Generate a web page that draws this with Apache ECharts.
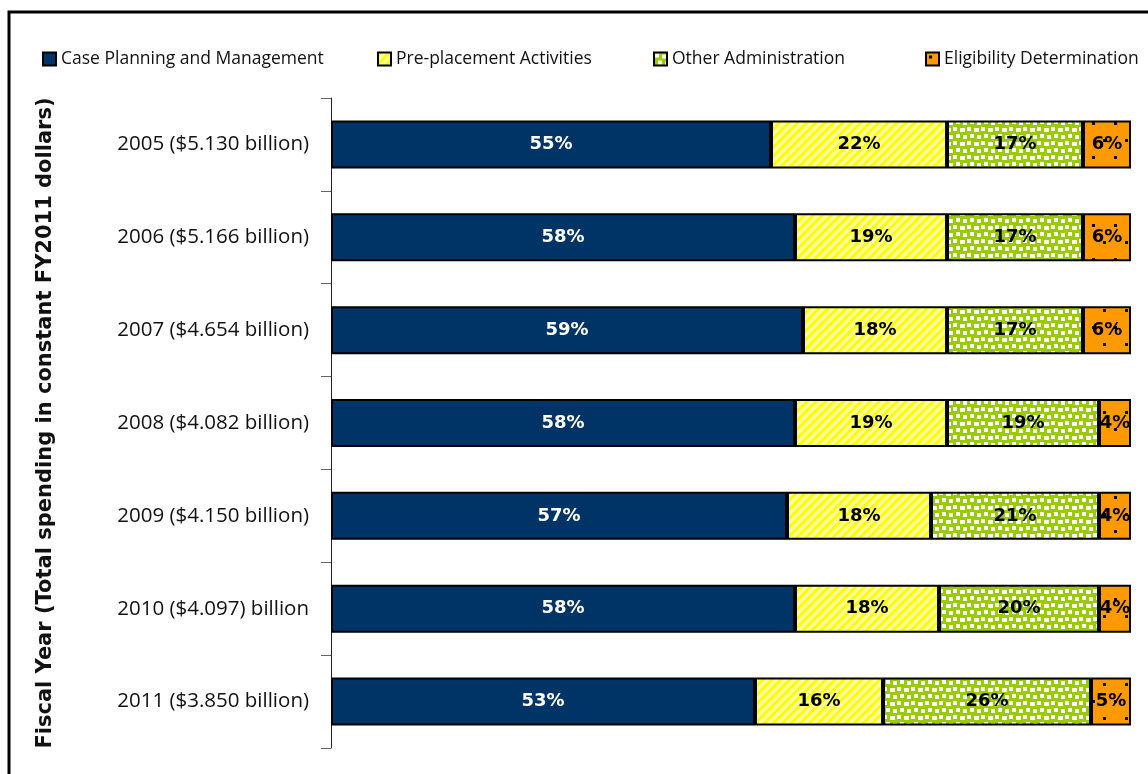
<!DOCTYPE html>
<html>
<head>
<meta charset="utf-8">
<script src="https://cdn.jsdelivr.net/npm/echarts@6/dist/echarts.min.js"></script>
<style>
html,body{margin:0;padding:0;background:#fff;}
#c{width:1148px;height:774px;}
</style>
</head>
<body>
<div id="c"></div>
<script>
const categories = [
  '2005 ($5.130 billion)',
  '2006 ($5.166 billion)',
  '2007 ($4.654 billion)',
  '2008 ($4.082 billion)',
  '2009 ($4.150 billion)',
  '2010 ($4.097) billion',
  '2011 ($3.850 billion)'
];
const seriesNames = ['Case Planning and Management', 'Pre-placement Activities', 'Other Administration', 'Eligibility Determination'];
const casePlanning   = [55, 58, 59, 58, 57, 58, 53];
const prePlacement   = [22, 19, 18, 19, 18, 18, 16];
const otherAdmin     = [17, 17, 17, 19, 21, 20, 26];
const eligibility    = [6, 6, 6, 4, 4, 4, 5];
const axisTitle = 'Fiscal Year (Total spending in constant FY2011 dollars)';

const DPR = window.devicePixelRatio || 1;
function makeCanvas(w, h, draw) {
  const c = document.createElement('canvas');
  c.width = Math.round(w * DPR); c.height = Math.round(h * DPR);
  const ctx = c.getContext('2d');
  ctx.scale(DPR, DPR);
  draw(ctx);
  return c;
}
const stripe = makeCanvas(9, 9, ctx => {
  ctx.fillStyle = '#FFFF99'; ctx.fillRect(0, 0, 9, 9);
  ctx.fillStyle = '#FFFF00';
  for (let y = 0; y < 9; y++) {
    for (let x = 0; x < 9; x++) {
      if ((x + y) % 9 < 4) ctx.fillRect(x, y, 1, 1);
    }
  }
});
const confetti = makeCanvas(14, 14, ctx => {
  ctx.fillStyle = '#99CC00'; ctx.fillRect(0, 0, 14, 14);
  ctx.fillStyle = '#FFFFFF';
  ctx.fillRect(1, 1, 4, 4);
  ctx.fillRect(8, 2, 5, 4);
  ctx.fillRect(4, 8, 4, 4);
  ctx.fillRect(11, 9, 3, 4);
  ctx.fillRect(0, 9, 1, 4);
});
const dots = makeCanvas(22, 34, ctx => {
  ctx.fillStyle = '#FF9900'; ctx.fillRect(0, 0, 22, 34);
  ctx.fillStyle = '#000000';
  ctx.fillRect(3, 3, 3, 3);
  ctx.fillRect(14, 20, 3, 3);
});

const fills = [
  '#003366',
  {image: stripe, repeat: 'repeat'},
  {image: confetti, repeat: 'repeat'},
  {image: dots, repeat: 'repeat'}
];
const dataSets = [casePlanning, prePlacement, otherAdmin, eligibility];
const labelColors = ['#FFFFFF', '#000000', '#000000', '#000000'];
const FONT = '"Open Sans", Lato, sans-serif';
const BOLD = '"DejaVu Sans", "Open Sans", sans-serif';
const legendLefts = [42, 377, 653, 925];

const chart = echarts.init(document.getElementById('c'));
chart.setOption({
  backgroundColor: '#fff',
  animation: false,
  textStyle: {fontFamily: FONT},
  graphic: [{
    type: 'rect', z: -1,
    shape: {x: 9, y: 12, width: 1300, height: 900},
    style: {fill: 'none', stroke: '#000', lineWidth: 3}
  }],
  legend: seriesNames.map((n, i) => ({
    top: 50, left: legendLefts[i], padding: 0,
    itemWidth: 13, itemHeight: 13, itemGap: 6,
    icon: 'rect',
    textStyle: {fontSize: 17.5, color: '#111', fontFamily: FONT},
    itemStyle: {borderColor: '#000', borderWidth: 2},
    data: [n]
  })),
  grid: {left: 331, right: 17, top: 98, bottom: 26, containLabel: false},
  xAxis: {type: 'value', min: 0, max: 100, show: false},
  yAxis: {
    type: 'category', inverse: true, data: categories,
    axisLine: {show: true, lineStyle: {color: '#222', width: 1}},
    axisTick: {show: true, length: 10, lineStyle: {color: '#666'}},
    axisLabel: {fontSize: 20.5, color: '#111', margin: 22, fontFamily: FONT},
    name: axisTitle, nameLocation: 'middle', nameRotate: 90, nameGap: 275,
    nameTextStyle: {fontSize: 21, fontWeight: 'bold', color: '#111', fontFamily: BOLD}
  },
  series: dataSets.map((d, i) => ({
    name: seriesNames[i], type: 'bar', stack: 'total', data: d,
    barWidth: 48,
    itemStyle: {color: fills[i], borderColor: '#000', borderWidth: 2},
    label: {
      show: true, position: 'inside', formatter: '{c}%',
      color: labelColors[i], fontWeight: 'bold', fontSize: 18, fontFamily: BOLD
    }
  }))
});
</script>
</body>
</html>
